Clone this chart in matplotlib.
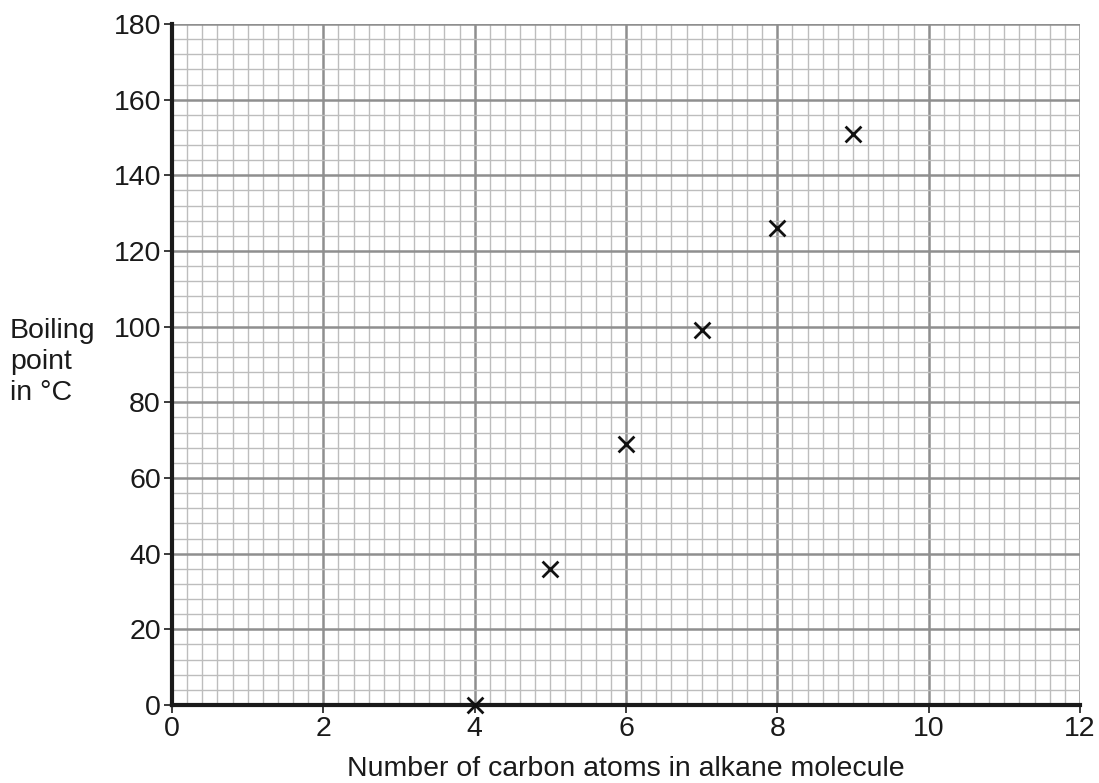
import matplotlib
matplotlib.use("Agg")
import matplotlib.pyplot as plt
import numpy as np

plt.rcParams['font.family'] = ['Liberation Sans', 'DejaVu Sans']

# alkane boiling points
carbons = [4, 5, 6, 7, 8, 9]
boiling = [0, 36, 69, 99, 126, 151]

fig = plt.figure(figsize=(10.99, 7.83), dpi=100)
ax = fig.add_axes([172/1099, 78/783, 908/1099, 681/783])

ax.set_xlim(0, 12)
ax.set_ylim(0, 180)
ax.set_xticks(np.arange(0, 13, 2))
ax.set_yticks(np.arange(0, 181, 20))
ax.set_xticks(np.arange(0, 12.01, 0.2), minor=True)
ax.set_yticks(np.arange(0, 180.1, 4), minor=True)

ax.grid(which='minor', color='#bdbdbd', linewidth=1.0)
ax.grid(which='major', color='#8f8f8f', linewidth=1.8)
ax.set_axisbelow(True)

for s in ['top', 'right']:
    ax.spines[s].set_visible(False)
for s in ['left', 'bottom']:
    ax.spines[s].set_linewidth(3)
    ax.spines[s].set_color('#1a1a1a')
    ax.spines[s].set_zorder(3)

ax.tick_params(which='major', direction='out', length=6, width=1.2,
               labelsize=20.5, colors='#1a1a1a', pad=2)
ax.tick_params(which='minor', length=0)

ax.scatter(carbons, boiling, marker='x', s=130, color='#111111',
           linewidths=2.0, zorder=4, clip_on=False)

ax.set_xlabel('Number of carbon atoms in alkane molecule', fontsize=20.5,
              color='#1a1a1a', labelpad=10)
fig.text(10/1099, 1 - 318/783, 'Boiling\npoint\nin °C', fontsize=20.5,
         color='#1a1a1a', ha='left', va='top', linespacing=1.25)

fig.savefig('out.png', dpi=100)
